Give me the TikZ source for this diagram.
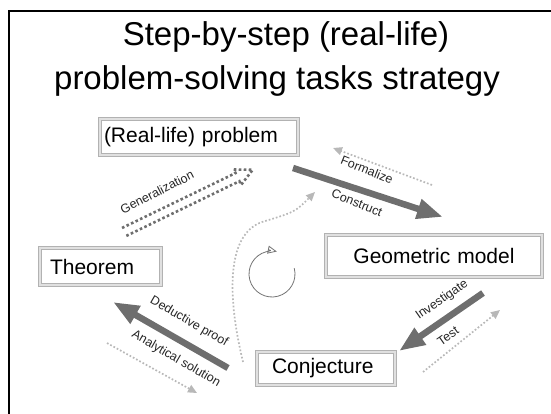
\documentclass[tikz,border=0pt]{standalone}
\usepackage{fontspec}
\setmainfont{Liberation Sans}
\usetikzlibrary{arrows.meta,positioning}

\definecolor{darkarrow}{HTML}{6E6E6E}
\definecolor{lightarrow}{HTML}{B8B8B8}

\begin{document}
\begin{tikzpicture}[x=1pt,y=-1pt,
		stage/.style={draw=black!30, line width=0.9pt, double=black!12, double distance=1.4pt,
			inner ysep=0pt, minimum height=#1, font=\fontsize{21}{24}\selectfont},
		stage/.default=36pt,
		big arrow/.style={draw=darkarrow, line width=6.5pt, -{Triangle[length=26pt,width=19pt]}},
		back arrow/.style={draw=lightarrow, line width=1.7pt, dash pattern=on 1.7pt off 2pt,
			-{Triangle[length=9pt,width=8pt]}},
		step label/.style={font=\fontsize{12.5}{14}\selectfont, text=black!85, inner sep=0pt}
	]
	\useasboundingbox (0,0) rectangle (551,414);
	\draw[line width=2pt] (9,414) -- (9,11) -- (551,11);

	% title
	\node[anchor=base, font=\fontsize{33}{40}\selectfont] (title1) at (286,46) {Step-by-step (real-life)};
	\node[anchor=base, font=\fontsize{33}{40}\selectfont] (title2) at (277,90) {problem-solving tasks strategy};

	% the four stages
	\node[stage, text width=190pt, inner xsep=4pt, align=left] (problem) at (199,137) {(Real-life) problem};
	\node[stage=42pt, text width=200pt, inner xsep=8pt, align=center] (model) at (434,256) {Geometric model};
	\node[stage=37pt, text width=101pt, inner xsep=10pt, align=left] (theorem) at (100.5,266.5) {Theorem};
	\node[stage=33pt, text width=108pt, inner xsep=15pt, align=left] (conjecture) at (326,368.5) {Conjecture};

	% problem -> model
	\coordinate (construct start) at (293,168);
	\coordinate (construct end) at (443,217);
	\draw[big arrow] (construct start) -- (construct end);
	\coordinate (formalize start) at (432,185);
	\coordinate (formalize end) at (333,148);
	\draw[back arrow] (formalize start) -- (formalize end);
	\node[step label, rotate=-22] (formalize) at (367,170) {Formalize};
	\node[step label, rotate=-22] (construct) at (357,203) {Construct};

	% model -> conjecture
	\coordinate (investigate start) at (483,293);
	\coordinate (investigate end) at (399,351);
	\draw[big arrow] (investigate start) -- (investigate end);
	\coordinate (test start) at (423,372);
	\coordinate (test end) at (500,310);
	\draw[back arrow] (test start) -- (test end);
	\node[step label, rotate=35] (investigate) at (442,300) {Investigate};
	\node[step label, rotate=35] (test) at (448,336) {Test};

	% conjecture -> theorem
	\coordinate (deduce start) at (228,368);
	\coordinate (deduce end) at (113,302);
	\draw[big arrow] (deduce start) -- (deduce end);
	\coordinate (solve start) at (107,343);
	\coordinate (solve end) at (197,393);
	\draw[back arrow] (solve start) -- (solve end);
	\node[step label, rotate=-30] (deductive) at (189,322) {Deductive proof};
	\node[step label, rotate=-30] (analytical) at (176,359) {Analytical solution};

	% theorem -> problem (hollow dotted block arrow)
	\begin{scope}[shift={(124,232)}, rotate=25.8]
		\draw[darkarrow, line width=2.6pt, dash pattern=on 2.6pt off 2.4pt]
			(0,-4.5) -- (126,-4.5) -- (126,-8.5) -- (143,0) -- (126,8.5) -- (126,4.5) -- (0,4.5);
	\end{scope}
	\node[step label, rotate=27] (generalization) at (157,192) {Generalization};

	% shortcut conjecture -> problem
	\coordinate (shortcut start) at (243,362);
	\coordinate (shortcut end) at (315,192);
	\draw[back arrow] (shortcut start) .. controls (228,300) and (225,235) .. (262,222)
		.. controls (295,212) .. (shortcut end);

	% cycle sign
	\coordinate (cycle) at (272,274);
	\draw[black!55, line width=0.8pt, -{Triangle[open,length=9pt,width=8pt]}]
		([shift={(-15:23)}]cycle) arc[start angle=-15, end angle=282, radius=23];
\end{tikzpicture}
\end{document}
